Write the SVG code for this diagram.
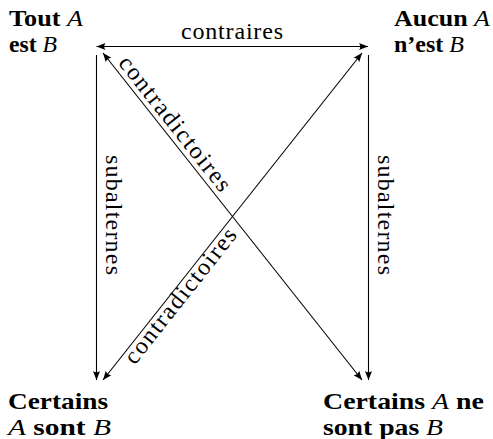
<svg xmlns="http://www.w3.org/2000/svg" width="493" height="439" viewBox="0 0 493 439">
<style>
text{font-family:"Liberation Serif","Times New Roman",serif;fill:#000}
.n{font-size:24px;font-weight:bold}
.m{font-style:italic;font-weight:normal}
.l{font-size:24px}
.c line{stroke:#000;stroke-width:1.1;fill:none}
</style>
<defs>
<marker id="ah" markerUnits="userSpaceOnUse" markerWidth="12" markerHeight="10" viewBox="-10 -5 12 10" refX="0" refY="0" orient="auto-start-reverse">
<path d="M0,0 L-9,-3.6 Q-6.5,0 -9,3.6 Z" fill="#000"/>
</marker>
</defs>
<rect width="493" height="439" fill="#fff"/>
<g id="connectors" class="c">
<line x1="96.5" y1="46.5" x2="368" y2="46.5" marker-start="url(#ah)" marker-end="url(#ah)"/>
<line x1="96.5" y1="55" x2="96.5" y2="380" marker-end="url(#ah)"/>
<line x1="368.5" y1="55" x2="368.5" y2="380" marker-end="url(#ah)"/>
<line x1="103" y1="53" x2="362" y2="380" marker-start="url(#ah)" marker-end="url(#ah)"/>
<line x1="362" y1="53" x2="103" y2="380" marker-start="url(#ah)" marker-end="url(#ah)"/>
</g>
<g id="labels">
<text class="l" x="232" y="39" text-anchor="middle" textLength="102">contraires</text>
<text class="l" transform="translate(106,215) rotate(90)" text-anchor="middle" textLength="120">subalternes</text>
<text class="l" transform="translate(378,215) rotate(90)" text-anchor="middle" textLength="120">subalternes</text>
<text class="l" transform="translate(103,53) rotate(51.6)" x="100" y="-5" text-anchor="middle" textLength="166">contradictoires</text>
<text class="l" transform="translate(103,380) rotate(-51.6)" x="114" y="16" text-anchor="middle" textLength="166">contradictoires</text>
</g>
<g id="tout">
<text class="n" x="9" y="26" textLength="74" lengthAdjust="spacingAndGlyphs">Tout <tspan class="m">A</tspan></text>
<text class="n" x="9" y="52" textLength="48" lengthAdjust="spacingAndGlyphs">est <tspan class="m">B</tspan></text>
</g>
<g id="aucun">
<text class="n" x="394" y="26" textLength="96" lengthAdjust="spacingAndGlyphs">Aucun <tspan class="m">A</tspan></text>
<text class="n" x="394" y="52" textLength="70" lengthAdjust="spacingAndGlyphs">n’est <tspan class="m">B</tspan></text>
</g>
<g id="certains">
<text class="n" x="8" y="409" textLength="100" lengthAdjust="spacingAndGlyphs">Certains</text>
<text class="n" x="8" y="435" textLength="103" lengthAdjust="spacingAndGlyphs"><tspan class="m">A</tspan> sont <tspan class="m">B</tspan></text>
</g>
<g id="certains-ne">
<text class="n" x="323" y="409" textLength="161" lengthAdjust="spacingAndGlyphs">Certains <tspan class="m">A</tspan> ne</text>
<text class="n" x="323" y="435" textLength="120" lengthAdjust="spacingAndGlyphs">sont pas <tspan class="m">B</tspan></text>
</g>
</svg>
